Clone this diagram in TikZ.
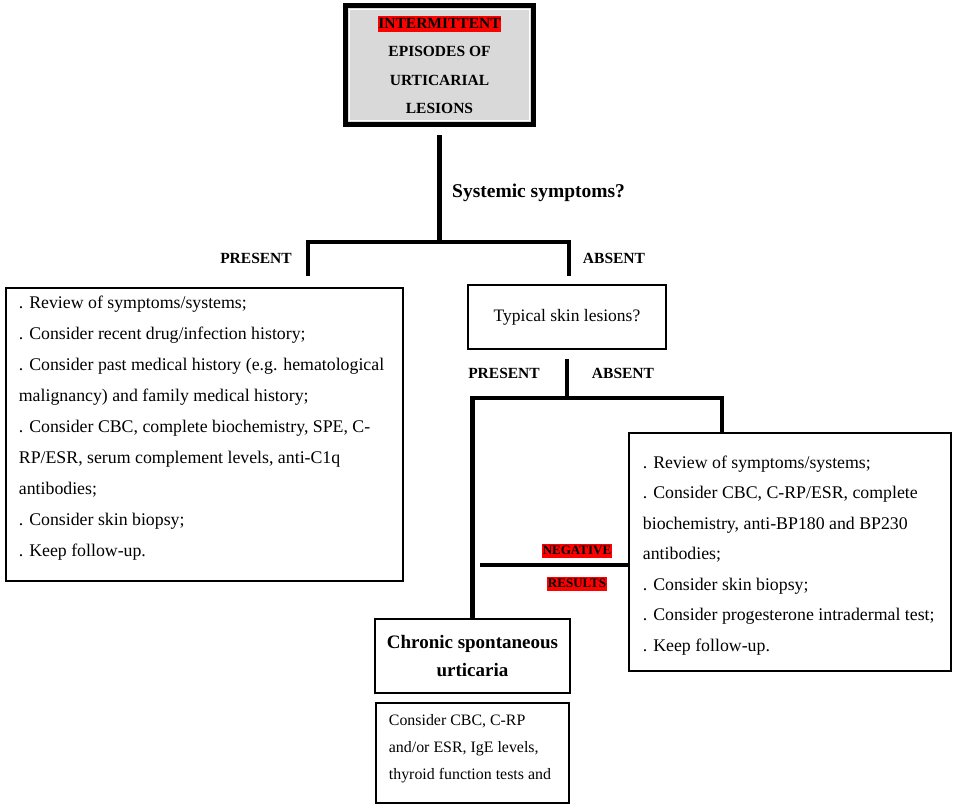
\documentclass[tikz,border=0pt]{standalone}
\usepackage{fontspec}
\setmainfont{Liberation Serif}
\usepackage{xcolor}
\definecolor{boxgray}{HTML}{D9D9D9}
\newcommand{\redmark}[1]{{\setlength{\fboxsep}{0.5pt}\colorbox{red}{\rule[-0.2em]{0pt}{0.95em}#1}}}
\newcommand{\bodysize}{\fontsize{17.8}{31}\selectfont}
\tikzset{
    title-box/.style = {draw, line width=5pt, fill=boxgray, rectangle, outer sep=0pt, minimum width=188pt, minimum height=119pt, align=center, font=\bfseries\fontsize{15.5}{28.5}\selectfont},
    plain-box/.style = {draw, line width=1.8pt, fill=white, rectangle, inner xsep=13pt, inner ysep=8pt},
    link/.style = {line width=4.5pt},
    branch-label/.style = {font=\bfseries\fontsize{15.5}{18}\selectfont, inner sep=0pt},
    result-label/.style = {font=\bfseries\fontsize{13}{15}\selectfont, inner sep=0pt},
}

\begin{document}
\begin{tikzpicture}[x=1pt, y=-1pt]
\useasboundingbox (0,0) rectangle (957,808);

% title
\node [title-box] (start) at (439.5,65) {\redmark{INTERMITTENT}\\ EPISODES OF\\ URTICARIAL\\ LESIONS};
\draw [white, line width=1.2pt] ([shift={(4,4)}]start.north west) rectangle ([shift={(-4,-4)}]start.south east);

% first question
\coordinate (j1) at (start.south |- 0,242);
\draw [link] ([yshift=-10.5pt]start.south) -- (j1);
\node [font=\bfseries\fontsize{19.5}{22}\selectfont, anchor=west, inner sep=0pt] (q1) at (452,193) {Systemic symptoms?};
\coordinate (d1) at (308,276);
\coordinate (d2) at (569,276);
\draw [link] (d1) |- (j1) -| (d2);
\node [branch-label] (p1) at (256,258) {PRESENT};
\node [branch-label] (a1) at (614,258) {ABSENT};

% systemic symptoms present
\node [plain-box, anchor=north west] (sysbox) at (5,287) {\begin{minipage}[t][277pt][t]{371pt}\raggedright\bodysize
. Review of symptoms/systems;\\
. Consider recent drug/infection history;\\
. Consider past medical history (e.g. hematological\\
malignancy) and family medical history;\\
. Consider CBC, complete biochemistry, SPE, C-\\
RP/ESR, serum complement levels, anti-C1q\\
antibodies;\\
. Consider skin biopsy;\\
. Keep follow-up.
\end{minipage}};

% systemic symptoms absent
\node [plain-box, minimum width=198pt, minimum height=64pt, font=\fontsize{17.5}{20}\selectfont] (typical) at (567,317) {Typical skin lesions?};
\node [branch-label] (p2) at (504,373) {PRESENT};
\node [branch-label] (a2) at (623,373) {ABSENT};

\node [plain-box, anchor=north west, inner xsep=14pt] (rbox) at (628,432) {\begin{minipage}[c][222pt][c]{294pt}\raggedright\fontsize{17.8}{30.5}\selectfont
\vspace*{7pt}
. Review of symptoms/systems;\\
. Consider CBC, C-RP/ESR, complete\\
biochemistry, anti-BP180 and BP230\\
antibodies;\\
. Consider skin biopsy;\\
. Consider progesterone intradermal test;\\
. Keep follow-up.
\end{minipage}};

\node [plain-box, minimum width=195pt, minimum height=74pt, align=center, inner sep=0pt, font=\bfseries\fontsize{19}{28}\selectfont] (chronic) at (472.5,656) {Chronic spontaneous\\ urticaria};

\node [plain-box, anchor=north west, inner ysep=0pt] (workup) at (375,702) {\begin{minipage}[t][100pt][t]{167pt}\raggedright\fontsize{15.9}{27}\selectfont
\vspace*{12pt}
Consider CBC, C-RP\\
and/or ESR, IgE levels,\\
thyroid function tests and
\end{minipage}};

% second question connectors
\coordinate (j2) at (typical.south |- 0,398);
\coordinate (d4) at (rbox.north west -| 722,0);
\draw [link] ([yshift=-9pt]typical.south) -- (j2);
\draw [link] (chronic.north) |- (j2) -| (d4);

% negative results
\coordinate (n1) at (480,565);
\draw [link] (n1 -| rbox.west) -- (n1);
\node [result-label] (neg) at (577,551) {\redmark{NEGATIVE}};
\node [result-label] (res) at (577,584) {\redmark{RESULTS}};
\end{tikzpicture}
\end{document}
